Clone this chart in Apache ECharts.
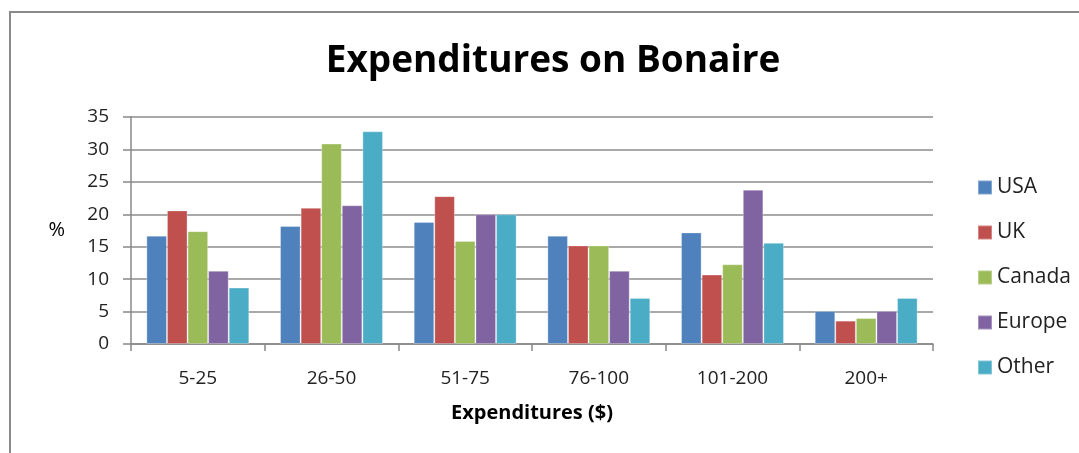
<!DOCTYPE html>
<html>
<head>
<meta charset="utf-8">
<script src="https://cdn.jsdelivr.net/npm/echarts@6/dist/echarts.min.js"></script>
<style>
  html, body { margin: 0; padding: 0; background: #fff; }
  #chart { width: 1079px; height: 453px; }
</style>
</head>
<body>
<div id="chart"></div>
<script>
var categories = ['5-25', '26-50', '51-75', '76-100', '101-200', '200+'];
var usa    = [16.7, 18.2, 18.8, 16.7, 17.2, 5.1];
var uk     = [20.6, 21.0, 22.8, 15.2, 10.7, 3.6];
var canada = [17.4, 30.9, 15.9, 15.2, 12.3, 4.0];
var europe = [11.3, 21.4, 20.0, 11.3, 23.8, 5.1];
var other  = [8.7, 32.8, 20.0, 7.1, 15.6, 7.1];
var seriesNames = ['USA', 'UK', 'Canada', 'Europe', 'Other'];
var colors = ['#4F81BD', '#C0504D', '#9BBB59', '#8064A2', '#4BACC6'];

var font = 'Open Sans, Liberation Sans, sans-serif';
var chart = echarts.init(document.getElementById('chart'));

var seriesData = [usa, uk, canada, europe, other];
var series = seriesNames.map(function (name, i) {
  return {
    name: name,
    type: 'bar',
    data: seriesData[i],
    barGap: '0%',
    barCategoryGap: '23%',
    itemStyle: { color: colors[i], borderColor: 'rgba(255,255,255,0.3)', borderWidth: 1 }
  };
});

chart.setOption({
  animation: false,
  color: colors,
  textStyle: { fontFamily: font },
  // outer chart frame
  graphic: [{
    type: 'rect',
    shape: { x: 10, y: 12, width: 1200, height: 600 },
    style: { fill: 'none', stroke: '#8a8a8a', lineWidth: 2 },
    silent: true
  }],
  title: {
    text: 'Expenditures on Bonaire',
    left: 548,
    textAlign: 'center',
    top: 38,
    textStyle: { fontFamily: font, fontSize: 37, fontWeight: 'bold', color: '#000' }
  },
  legend: {
    orient: 'vertical',
    left: 972,
    top: 172,
    itemGap: 24,
    itemWidth: 14,
    itemHeight: 14,
    icon: 'rect',
    textStyle: { fontFamily: font, fontSize: 21, color: '#222' },
    data: seriesNames
  },
  grid: { left: 131, right: 146, top: 117, bottom: 109 },
  xAxis: {
    type: 'category',
    data: categories,
    name: 'Expenditures ($)',
    nameLocation: 'middle',
    nameGap: 59,
    nameTextStyle: { fontFamily: font, fontSize: 20, fontWeight: 'bold', color: '#000' },
    axisLine: { lineStyle: { color: '#888', width: 1.5 } },
    axisTick: { show: true, length: 7, lineStyle: { color: '#888', width: 1.5 } },
    axisLabel: { margin: 25, fontFamily: font, fontSize: 19, color: '#222' }
  },
  yAxis: {
    type: 'value',
    min: 0,
    max: 35,
    interval: 5,
    name: '%',
    nameLocation: 'middle',
    nameRotate: 0,
    nameGap: 66,
    nameTextStyle: { fontFamily: font, fontSize: 20, color: '#000' },
    axisLine: { show: true, lineStyle: { color: '#888', width: 1.5 } },
    axisTick: { show: true, length: 8, lineStyle: { color: '#888', width: 1.5 } },
    splitLine: { lineStyle: { color: '#8c8c8c', width: 1.5 } },
    axisLabel: { margin: 22, fontFamily: font, fontSize: 19, color: '#222' }
  },
  series: series
});
</script>
</body>
</html>
